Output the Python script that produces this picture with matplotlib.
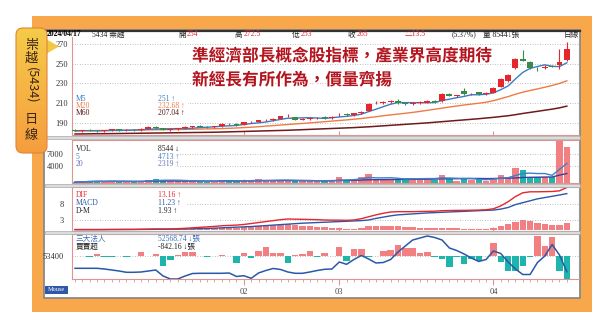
import numpy as np
import pandas as pd
import matplotlib.pyplot as plt
import matplotlib.patheffects as pe
from matplotlib.patches import Rectangle, Polygon, FancyBboxPatch
from matplotlib.colors import LinearSegmentedColormap

# ---- data (68 trading days, early Jan .. 2024/04/17) ----
opens = [182.5, 182.0, 182.5, 182.0, 181.5, 182.5, 183.5, 182.5, 183.0, 182.5,
         184.0, 186.0, 184.5, 183.0, 183.5, 184.5, 186.0, 186.5, 186.0, 185.5,
         186.5, 189.0, 188.5, 188.0, 190.5, 191.0, 192.5, 193.0, 194.5, 197.0,
         196.0, 193.0, 194.5, 195.0, 196.5, 195.0, 198.0, 199.5, 198.0, 200.0,
         202.5, 210.0, 210.5, 211.0, 212.5, 210.0, 209.0, 210.5, 210.5, 212.5,
         212.0, 219.0, 217.0, 222.0, 219.0, 221.0, 219.0, 220.5, 226.5, 232.5,
         245.5, 255.0, 252.0, 245.0, 245.5, 247.5, 249.0, 254.0]
highs = [183.5, 183.0, 183.5, 183.0, 183.0, 184.0, 184.0, 183.5, 184.0, 184.5,
         186.5, 186.5, 185.0, 184.0, 185.0, 186.5, 187.0, 187.5, 187.0, 187.0,
         190.0, 190.0, 189.5, 191.0, 192.0, 193.0, 194.0, 195.0, 197.5, 199.0,
         196.5, 195.0, 196.0, 196.0, 197.0, 197.0, 200.0, 200.0, 200.5, 202.0,
         210.5, 212.0, 212.5, 213.5, 214.5, 211.0, 211.0, 212.0, 213.5, 213.0,
         220.0, 220.0, 218.5, 225.0, 220.5, 221.5, 221.0, 226.0, 236.0, 239.5,
         255.5, 263.5, 253.0, 246.5, 248.5, 249.0, 264.5, 272.5]
lows = [181.5, 181.0, 181.5, 180.5, 181.0, 182.0, 182.0, 181.5, 182.0, 182.0,
        183.5, 184.0, 182.5, 182.0, 183.0, 184.0, 185.0, 185.5, 185.0, 185.0,
        186.0, 188.0, 187.0, 187.5, 189.5, 190.5, 191.5, 192.0, 194.0, 196.0,
        192.5, 192.5, 193.5, 194.0, 194.5, 194.5, 197.5, 197.5, 197.5, 199.5,
        202.0, 209.0, 209.5, 210.0, 209.0, 208.0, 208.5, 209.5, 210.0, 210.5,
        211.5, 217.0, 216.0, 218.5, 218.0, 218.5, 218.5, 220.0, 226.0, 232.0,
        245.0, 252.5, 245.0, 242.5, 244.5, 246.5, 245.0, 253.0]
closes = [182.0, 182.5, 182.0, 181.5, 182.5, 183.5, 182.5, 183.0, 182.5, 184.0,
          186.0, 184.5, 183.0, 183.5, 184.5, 186.0, 186.5, 186.0, 185.5, 186.5,
          189.0, 188.5, 188.0, 190.5, 191.0, 192.5, 193.0, 194.5, 197.0, 197.0,
          193.0, 194.5, 195.0, 195.5, 195.0, 196.5, 198.5, 198.0, 200.0, 201.5,
          209.5, 210.5, 211.0, 212.5, 210.0, 209.0, 210.5, 210.5, 212.5, 211.0,
          219.0, 217.5, 218.0, 219.0, 219.5, 219.0, 220.0, 225.0, 235.0, 238.5,
          254.5, 253.0, 245.5, 244.5, 247.0, 247.0, 251.5, 265.0]
ma20 = [182.0, 182.1, 182.2, 182.3, 182.4, 182.5, 182.6, 182.7, 182.8, 182.9,
        183.0, 183.1, 183.2, 183.3, 183.4, 183.5, 183.6, 183.8, 184.0, 184.1,
        184.3, 184.6, 184.9, 185.3, 185.7, 186.2, 186.8, 187.3, 187.9, 188.4,
        189.0, 189.5, 190.1, 190.7, 191.3, 191.9, 192.5, 193.1, 193.8, 194.5,
        195.4, 196.3, 197.3, 198.2, 199.0, 199.8, 200.7, 201.7, 202.8, 203.9,
        205.0, 206.1, 207.2, 208.2, 209.1, 210.0, 211.0, 212.6, 214.6, 216.7,
        219.1, 221.2, 222.9, 224.5, 226.2, 228.0, 230.0, 232.68]
ma60 = [178.8, 178.9, 179.0, 179.1, 179.1, 179.2, 179.3, 179.4, 179.5, 179.6,
        179.7, 179.8, 179.9, 180.0, 180.1, 180.2, 180.3, 180.4, 180.5, 180.6,
        180.8, 181.0, 181.2, 181.4, 181.6, 181.8, 182.0, 182.2, 182.4, 182.6,
        182.9, 183.2, 183.5, 183.8, 184.1, 184.4, 184.7, 185.0, 185.3, 185.7,
        186.1, 186.6, 187.1, 187.6, 188.1, 188.6, 189.1, 189.6, 190.1, 190.7,
        191.3, 191.9, 192.5, 193.1, 193.7, 194.3, 195.0, 195.7, 196.5, 197.3,
        198.4, 199.6, 200.7, 201.8, 202.9, 204.0, 205.3, 207.04]
volumes = [300, 400, 550, 600, 450, 500, 400, 450, 400, 500,
           800, 1000, 900, 500, 450, 500, 600, 450, 400, 450,
           800, 700, 500, 600, 550, 1100, 700, 650, 800, 600,
           800, 600, 550, 500, 600, 650, 1400, 800, 900, 1550,
           2300, 950, 750, 1100, 900, 1250, 1300, 900, 1300, 900,
           2060, 1100, 600, 1100, 900, 1100, 600, 1300, 2060, 1600,
           3700, 3100, 1600, 1600, 1600, 1600, 10200, 8544]
dif = [0.0, 0.0, 0.0, 0.0, 0.02, 0.05, 0.05, 0.06, 0.06, 0.1,
       0.15, 0.2, 0.2, 0.2, 0.3, 0.4, 0.55, 0.7, 0.85, 1.0,
       1.2, 1.3, 1.4, 1.6, 1.9, 2.2, 2.5, 2.8, 3.1, 3.3,
       3.25, 3.2, 3.15, 3.1, 3.0, 2.95, 2.95, 2.9, 3.0, 3.4,
       4.0, 4.6, 5.1, 5.5, 5.6, 5.6, 5.6, 5.65, 5.7, 5.75,
       5.9, 5.95, 6.0, 6.0, 6.05, 6.1, 6.2, 6.5, 7.4, 8.7,
       10.3, 11.5, 11.8, 11.8, 11.85, 11.9, 12.1, 13.16]
macd = [0.0, 0.0, 0.0, 0.0, 0.0, 0.01, 0.02, 0.03, 0.04, 0.05,
        0.07, 0.09, 0.11, 0.13, 0.16, 0.2, 0.25, 0.3, 0.36, 0.45,
        0.55, 0.65, 0.75, 0.85, 0.95, 1.1, 1.25, 1.4, 1.55, 1.7,
        1.85, 2.0, 2.1, 2.2, 2.3, 2.4, 2.5, 2.6, 2.7, 2.8,
        3.0, 3.5, 3.9, 4.3, 4.6, 4.75, 4.9, 5.05, 5.2, 5.3,
        5.4, 5.5, 5.6, 5.7, 5.8, 5.9, 6.0, 6.1, 6.4, 6.9,
        7.8, 8.4, 9.0, 9.6, 10.0, 10.4, 10.8, 11.23]
net_buy = [0, 0, -50, 70, -50, -50, 0, -30, 0, 130,
           0, 70, -360, -150, 35, 130, 130, 0, -50, 0,
           35, 0, -240, 120, -80, 190, 310, 100, 100, -240,
           20, 70, 190, -30, 100, 0, 330, -170, 270, 270,
           -50, 0, 190, 215, 400, 280, 280, 100, 150, -30,
           -120, -410, -50, -290, -120, -170, 0, 455, -230, -530,
           -530, -360, -30, 730, 360, 700, -550, -842.16]
holdings = [52748, 52748, 52748, 52748, 52711, 52658, 52605, 52536, 52536, 52552,
            52605, 52658, 52340, 52181, 52181, 52340, 52472, 52483, 52483, 52483,
            52483, 52499, 52314, 52356, 52218, 52499, 52632, 52738, 52685, 52552,
            52483, 52483, 52552, 52632, 52695, 52711, 53082, 52960, 53215, 53426,
            53241, 53029, 53056, 53215, 53612, 53930, 54248, 54354, 54460, 54380,
            54248, 53824, 53691, 53506, 53294, 53109, 53215, 53665, 53532, 53082,
            52711, 52420, 52420, 53056, 53400, 54009, 53453, 52568.74]
month_starts = [23, 36, 57]
month_labels = ['02', '03', '04']
price_ticks = [190, 210, 230, 250, 270]
vol_ticks = [4000, 7000]
macd_ticks = [3, 8]

W, H = 607, 325
RED, GREEN = '#E5262C', '#3A8A48'
PINK, TEAL = '#F27F82', '#1DB5AC'
SPINE = '#DC9494'
GRID = dict(color='#AAAAAA', lw=0.6, ls=(0, (1, 2)))

plt.rcParams['font.family'] = ['Liberation Serif', 'Noto Sans CJK TC', 'DejaVu Sans']

o, h, l, c = map(np.array, (opens, highs, lows, closes))
n = len(c)
idx = np.arange(n)
up = c >= o
ma5 = pd.Series(closes).rolling(5, min_periods=1).mean()
vol = np.array(volumes)
vma5 = pd.Series(volumes).rolling(5, min_periods=1).mean()
vma20 = pd.Series(volumes).rolling(20, min_periods=1).mean()
osc = np.array(dif) - np.array(macd)
nb = np.array(net_buy)

fig = plt.figure(figsize=(W / 100, H / 100), dpi=100)

# background frame
bg = fig.add_axes([0, 0, 1, 1], zorder=-5)
bg.set_xlim(0, W); bg.set_ylim(H, 0); bg.axis('off')
bg.add_patch(Rectangle((32, 16), 560, 296, fc='#F8A84B', ec='none'))
bg.add_patch(Rectangle((44, 30), 536, 268, fc='white', ec='#8a8a8a', lw=1.3))
bg.plot([44, 580], [30.5, 30.5], color='#333333', lw=1.6)


def panel(y0, y1):
    ax = fig.add_axes([72 / W, 1 - y1 / H, 507 / W, (y1 - y0) / H])
    ax.set_xlim(-0.41, 68.66)
    ax.set_facecolor('none')
    for s in ax.spines.values():
        s.set_color(SPINE); s.set_linewidth(0.8)
    ax.spines['right'].set_color('#999999')
    ax.tick_params(axis='y', length=0, labelsize=6, colors='#333333', pad=6)
    ax.set_xticks(month_starts)
    ax.tick_params(axis='x', direction='in', length=3, color=SPINE, labelbottom=False)
    return ax


# main price panel
ax1 = panel(37, 135)
ax1.spines['top'].set_visible(False)
ax1.set_ylim(177.8, 277.1)
ax1.set_yticks(price_ticks)
ax1.tick_params(axis='y', pad=3)
for t in price_ticks:
    ax1.axhline(t, zorder=0, **GRID)
ax1.plot(idx, ma60, color='#6E1B1B', lw=1.1, zorder=2)
ax1.plot(idx, ma20, color='#F07A45', lw=1.0, zorder=2)
ax1.plot(idx, ma5, color='#3A7CC2', lw=1.0, zorder=2)
col = np.where(up, RED, GREEN)
ax1.vlines(idx, l, h, colors=col, lw=0.8, zorder=3)
ax1.bar(idx, np.maximum(np.abs(c - o), 0.3), bottom=np.minimum(o, c), width=0.8,
        color=col, zorder=3)

# volume panel
ax2 = panel(140, 183.3)
ax2.set_ylim(0, 10300)
ax2.set_yticks(vol_ticks)
for t in vol_ticks:
    ax2.axhline(t, zorder=0, **GRID)
ax2.bar(idx, vol, width=0.88, color=np.where(up, PINK, TEAL), zorder=2)
ax2.plot(idx, vma20, color='#3B3F9C', lw=1.0, zorder=3)
ax2.plot(idx, vma5, color='#3F7FC9', lw=1.0, zorder=3)

# MACD panel
ax3 = panel(187, 231)
ax3.set_ylim(-0.44, 13.3)
ax3.set_yticks(macd_ticks)
for t in macd_ticks:
    ax3.axhline(t, zorder=0, **GRID)
ax3.bar(idx, osc, width=0.88, color=np.where(osc >= 0, PINK, TEAL), zorder=2)
ax3.plot(idx, macd, color='#2A58A8', lw=1.0, zorder=3)
ax3.plot(idx, dif, color=RED, lw=1.0, zorder=3)

# institutional investors panel
ax4 = panel(234, 279.3)
ax4.set_ylim(-845, 795)
ax4.set_yticks([0])
ax4.set_yticklabels(['53400'])
ax4.axhline(0, zorder=0, **GRID)
ax4.bar(idx, nb, width=0.88, color=np.where(nb >= 0, PINK, TEAL), zorder=2)
ax4.set_xticks(month_starts)
ax4.set_xticklabels(month_labels)
ax4.set_xticks(idx, minor=True)
ax4.tick_params(axis='x', which='major', direction='out', length=4, color=SPINE,
                labelbottom=True, labelsize=6, labelcolor='#444444', pad=2)
ax4.tick_params(axis='x', which='minor', direction='out', length=2.5, color=SPINE)
tw = ax4.twinx()
tw.set_ylim(52165, 54566)
tw.set_xlim(-0.41, 68.66)
tw.axis('off')
tw.plot(idx, holdings, color='#2A58A8', lw=1.1, zorder=3)

# overlay: separators, legends, texts
fg = fig.add_axes([0, 0, 1, 1], zorder=10)
fg.set_xlim(0, W); fg.set_ylim(H, 0); fg.axis('off'); fg.patch.set_alpha(0)
for y, hh in [(135.6, 3.4), (183.6, 3.2), (231.2, 2.6)]:
    fg.add_patch(Rectangle((44.5, y), 535, hh, fc='#DCDCDC', ec='#A9A9A9', lw=0.5))
for x0, y0, x1, y1 in [(73, 94, 188, 118), (73, 143, 177, 168), (73, 189, 186, 215)]:
    fg.add_patch(Rectangle((x0, y0), x1 - x0, y1 - y0, fc='white', ec='none'))


def put(x, y, s, color='#222222', size=5.5, **kw):
    fg.text(x, y, s, color=color, fontsize=size, va='center', zorder=8, **kw)


# left tab (drawn first so the header sits on top of it)
tab = FancyBboxPatch((16, 28), 31, 125, boxstyle='round,pad=0,rounding_size=7',
                     fc='none', ec='#E4823A', lw=0.8, zorder=5)
fg.add_patch(tab)
grad = np.linspace(0, 1, 100)[:, None]
cmap = LinearSegmentedColormap.from_list('tab', ['#F4CB48', '#F6B444', '#F49E3E'])
im = fg.imshow(grad, extent=(16, 47, 153, 28), cmap=cmap, aspect='auto', zorder=4)
im.set_clip_path(tab)
fg.add_patch(Polygon([(46, 39), (59, 46.5), (46, 54)], closed=True, fc='#F4C646',
                     ec='none', zorder=4))
fg.set_xlim(0, W); fg.set_ylim(H, 0)
tc = '#3A2414'
for y, ch in [(45, '崇'), (58, '越'), (120, '日'), (136, '線')]:
    fg.text(31.5, y, ch, fontsize=9.5, color=tc, ha='center', va='center',
            family=['Noto Sans CJK TC'], zorder=6)
fg.text(31.5, 85.5, '(5434)', fontsize=9, color=tc, ha='center', va='center',
        rotation=-90, family=['Noto Sans CJK TC'], zorder=6)

# header row
put(47, 34.5, '2024/04/17', color='black', size=5.5, fontweight='bold')
put(92, 34.5, '5434 崇越', size=5.5)
for x, lab, val in [(178, '開', '254'), (235, '高', '272.5'), (292, '低', '253'), (348, '收', '265')]:
    put(x, 34.5, lab, size=5.5)
    put(x + 9, 34.5, val, color=RED, size=5.5)
put(405, 34.5, '△13.5', color=RED, size=5.5)
put(452, 34.5, '(5.37%)', size=5.5)
put(483, 34.5, '量 8544↓張', size=5.5)
put(564, 34.5, '日線', size=5.5)

# legends
legend_rows = [
    (99, 'M5', '251 ↑', '#3A7CC2'),
    (106, 'M20', '232.68 ↑', '#F07A45'),
    (113, 'M60', '207.04 ↑', '#5A1818'),
    (149, 'VOL', '8544 ↓', '#222222'),
    (157, '5', '4713 ↑', '#3F7FC9'),
    (164, '20', '2319 ↑', '#6B6FB5'),
    (195, 'DIF', '13.16 ↑', RED),
    (203, 'MACD', '11.23 ↑', '#2A58A8'),
    (211, 'D-M', '1.93 ↑', '#222222'),
    (239, '三大法人', '52568.74 ↓張', '#3A6CB8'),
    (247, '買賣超', '-842.16 ↓張', '#222222'),
]
for y, name, val, clr in legend_rows:
    put(76, y, name, color=clr, size=5.5)
    put(158, y, val, color=clr, size=5.5)

# headline
halo = [pe.withStroke(linewidth=2.5, foreground='white')]
for y, s in [(56, '準經濟部長概念股指標，產業界高度期待'), (80, '新經長有所作為，價量齊揚')]:
    fg.text(192, y, s, fontsize=12, fontweight='bold', color='#B3141E', va='center',
            family=['Noto Sans CJK TC'], path_effects=halo, zorder=8)

# "Mouse" badge
fg.add_patch(Rectangle((44.5, 285.5), 23, 8, fc='#2F58A8', ec='none'))
put(56, 289.5, 'Mouse', color='white', size=4.5, ha='center')

fig.savefig('out.png', dpi=100)
